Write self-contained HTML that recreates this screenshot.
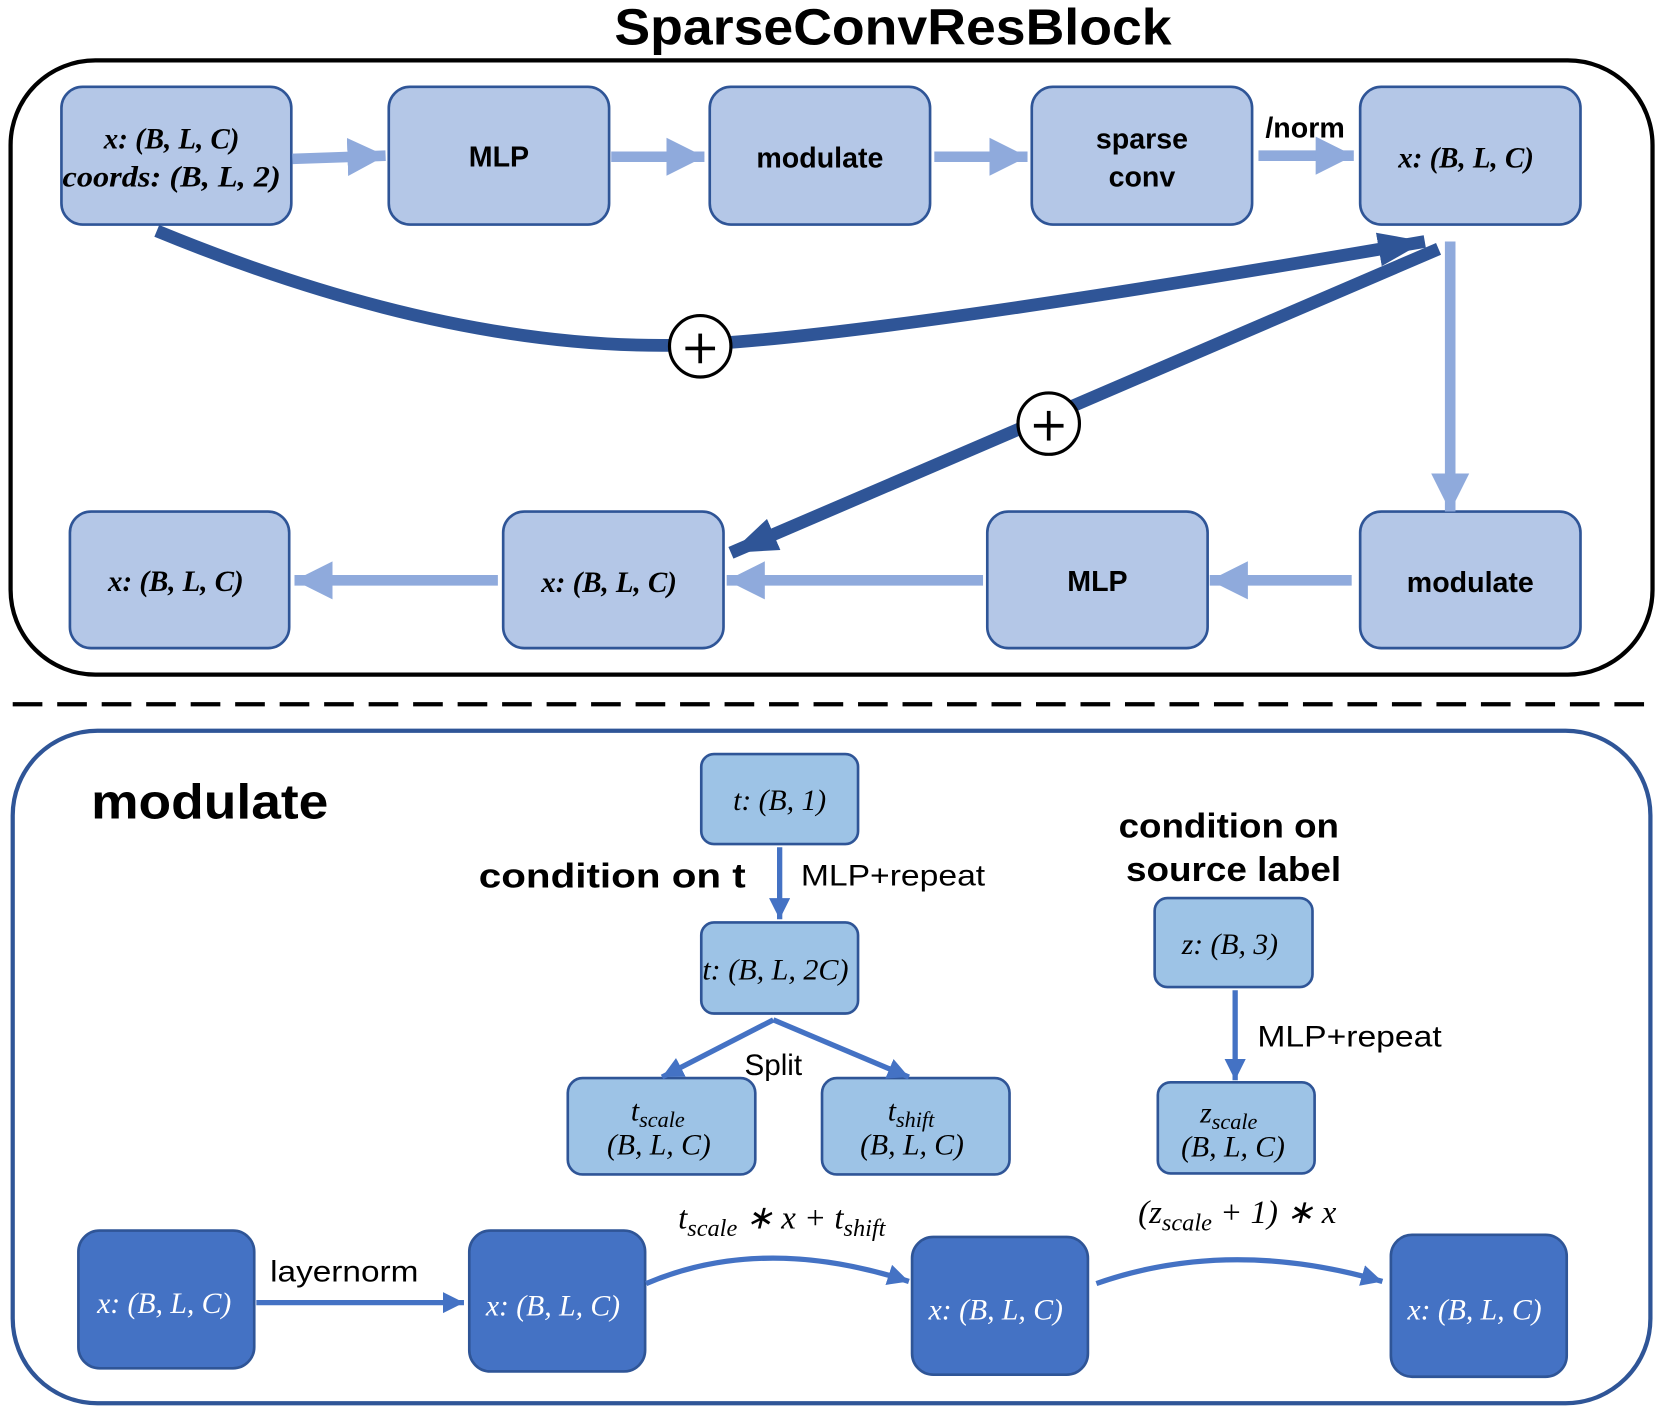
<!DOCTYPE html>
<html><head><meta charset="utf-8"><style>html,body{margin:0;padding:0;background:#fff}svg{display:block}</style></head>
<body>
<svg width="1661" height="1417" viewBox="0 0 1568 1338" preserveAspectRatio="none" xmlns="http://www.w3.org/2000/svg">
<defs>
<marker id="al" markerUnits="userSpaceOnUse" markerWidth="40" markerHeight="40" refX="36" refY="18" orient="auto"><path d="M0,0 L36,18 L0,36 Z" fill="#8faadc"/></marker>
<marker id="ad" markerUnits="userSpaceOnUse" markerWidth="50" markerHeight="40" refX="44" refY="16" orient="auto"><path d="M0,0 L44,16 L0,32 Z" fill="#2f5597"/></marker>
<marker id="am" markerUnits="userSpaceOnUse" markerWidth="24" markerHeight="24" refX="20" refY="10" orient="auto"><path d="M0,0 L20,10 L0,20 Z" fill="#4472c4"/></marker>
</defs>
<g font-family="Liberation Sans, sans-serif">
<text x="580" y="42" font-size="48" font-weight="bold" textLength="526" lengthAdjust="spacingAndGlyphs">SparseConvResBlock</text>
<rect x="10" y="57" width="1550" height="580" rx="80" fill="none" stroke="#000" stroke-width="4"/>
<g fill="#b4c7e7" stroke="#2f5597" stroke-width="2.5">
<rect x="58" y="82" width="217" height="130" rx="20"/>
<rect x="367" y="82" width="208" height="130" rx="20"/>
<rect x="670" y="82" width="208" height="130" rx="20"/>
<rect x="974" y="82" width="208" height="130" rx="20"/>
<rect x="1284" y="82" width="208" height="130" rx="20"/>
<rect x="66" y="483" width="207" height="129" rx="20"/>
<rect x="475" y="483" width="208" height="129" rx="20"/>
<rect x="932" y="483" width="208" height="129" rx="20"/>
<rect x="1284" y="483" width="208" height="129" rx="20"/>
</g>
<g font-size="27" font-weight="bold" text-anchor="middle">
<text x="471" y="157">MLP</text>
<text x="774" y="158">modulate</text>
<text x="1078" y="140">sparse</text>
<text x="1078" y="176">conv</text>
<text x="1036" y="558">MLP</text>
<text x="1388" y="559">modulate</text>
<text x="1232" y="130">/norm</text>
</g>
<g font-family="Liberation Serif, serif" font-style="italic" font-weight="bold" font-size="28" text-anchor="middle">
<text x="162" y="140" textLength="128" lengthAdjust="spacingAndGlyphs">x: (B, L, C)</text>
<text x="162" y="176" textLength="206" lengthAdjust="spacingAndGlyphs">coords: (B, L, 2)</text>
<text x="1384" y="158" textLength="128" lengthAdjust="spacingAndGlyphs">x: (B, L, C)</text>
<text x="166" y="558" textLength="128" lengthAdjust="spacingAndGlyphs">x: (B, L, C)</text>
<text x="575" y="559" textLength="128" lengthAdjust="spacingAndGlyphs">x: (B, L, C)</text>
</g>
<g stroke="#8faadc" stroke-width="10" fill="none">
<line x1="276" y1="150" x2="364" y2="147" marker-end="url(#al)"/>
<line x1="577" y1="148" x2="665" y2="148" marker-end="url(#al)"/>
<line x1="882" y1="148" x2="970" y2="148" marker-end="url(#al)"/>
<line x1="1188" y1="147" x2="1278" y2="147" marker-end="url(#al)"/>
<line x1="1369" y1="228" x2="1369" y2="483" marker-end="url(#al)"/>
<line x1="1276" y1="548" x2="1142" y2="548" marker-end="url(#al)"/>
<line x1="928" y1="548" x2="686" y2="548" marker-end="url(#al)"/>
<line x1="470" y1="548" x2="278" y2="548" marker-end="url(#al)"/>
</g>
<g stroke="#2f5597" stroke-width="12" fill="none">
<path d="M148,218 Q420,330 640,326 Q800,322 1345,228" marker-end="url(#ad)"/>
<line x1="1358" y1="235" x2="690" y2="522" marker-end="url(#ad)"/>
</g>
<g fill="#fff" stroke="#000" stroke-width="3">
<circle cx="661" cy="327" r="29"/>
<circle cx="990" cy="400" r="29"/>
</g>
<g stroke="#000" stroke-width="3.5">
<line x1="647" y1="329" x2="675" y2="329"/><line x1="661" y1="315" x2="661" y2="343"/>
<line x1="976" y1="402" x2="1004" y2="402"/><line x1="990" y1="388" x2="990" y2="416"/>
</g>
<line x1="12" y1="665" x2="1555" y2="665" stroke="#000" stroke-width="4" stroke-dasharray="28 14"/>
<rect x="12" y="690" width="1546" height="635" rx="80" fill="none" stroke="#2f5597" stroke-width="4"/>
<text x="86" y="773" font-size="46" font-weight="bold" textLength="224" lengthAdjust="spacingAndGlyphs">modulate</text>
<text x="452" y="838" font-size="32" font-weight="bold" textLength="252" lengthAdjust="spacingAndGlyphs">condition on t</text>
<text x="1056" y="791" font-size="32" font-weight="bold" textLength="208" lengthAdjust="spacingAndGlyphs">condition on</text>
<text x="1063" y="832" font-size="32" font-weight="bold" textLength="203" lengthAdjust="spacingAndGlyphs">source label</text>
<text x="756" y="836" font-size="28" textLength="174" lengthAdjust="spacingAndGlyphs">MLP+repeat</text>
<text x="1187" y="988" font-size="28" textLength="174" lengthAdjust="spacingAndGlyphs">MLP+repeat</text>
<text x="730" y="1015" font-size="28" text-anchor="middle">Split</text>
<text x="255" y="1210" font-size="28" textLength="140" lengthAdjust="spacingAndGlyphs">layernorm</text>
<g fill="#9dc3e6" stroke="#2f5597" stroke-width="2.5">
<rect x="662" y="712" width="148" height="85" rx="12"/>
<rect x="662" y="871" width="148" height="86" rx="12"/>
<rect x="536" y="1018" width="177" height="91" rx="14"/>
<rect x="776" y="1018" width="177" height="91" rx="14"/>
<rect x="1090" y="848" width="149" height="84" rx="12"/>
<rect x="1093" y="1022" width="148" height="86" rx="12"/>
</g>
<g fill="#4472c4" stroke="#2f5597" stroke-width="2.5">
<rect x="74" y="1162" width="166" height="130" rx="20"/>
<rect x="443" y="1162" width="166" height="133" rx="20"/>
<rect x="861" y="1168" width="166" height="130" rx="20"/>
<rect x="1313" y="1166" width="166" height="134" rx="20"/>
</g>
<g stroke="#4472c4" stroke-width="5" fill="none">
<line x1="736" y1="800" x2="736" y2="868" marker-end="url(#am)"/>
<line x1="730" y1="963" x2="625" y2="1017" marker-end="url(#am)"/>
<line x1="730" y1="963" x2="858" y2="1017" marker-end="url(#am)"/>
<line x1="1166" y1="935" x2="1166" y2="1020" marker-end="url(#am)"/>
<line x1="242" y1="1230" x2="438" y2="1230" marker-end="url(#am)"/>
<path d="M610,1212 Q720,1165 858,1210" marker-end="url(#am)"/>
<path d="M1035,1212 Q1160,1168 1305,1210" marker-end="url(#am)"/>
</g>
<g font-family="Liberation Serif, serif" font-style="italic" font-size="28" text-anchor="middle">
<text x="736" y="765">t: (B, 1)</text>
<text x="732" y="925" textLength="138" lengthAdjust="spacingAndGlyphs">t: (B, L, 2C)</text>
<text x="621" y="1058">t<tspan font-size="21" dy="6">scale</tspan></text>
<text x="622" y="1090">(B, L, C)</text>
<text x="860" y="1058">t<tspan font-size="21" dy="6">shift</tspan></text>
<text x="861" y="1090">(B, L, C)</text>
<text x="1161" y="901">z: (B, 3)</text>
<text x="1160" y="1060">z<tspan font-size="21" dy="6">scale</tspan></text>
<text x="1164" y="1092">(B, L, C)</text>
<text x="738" y="1160" font-size="31">t<tspan font-size="23" dy="7">scale</tspan><tspan dy="-7"> ∗ x + t</tspan><tspan font-size="23" dy="7">shift</tspan></text>
<text x="1168" y="1155" font-size="31">(z<tspan font-size="23" dy="7">scale</tspan><tspan dy="-7"> + 1) ∗ x</tspan></text>
<g fill="#fff">
<text x="155" y="1240">x: (B, L, C)</text>
<text x="522" y="1242">x: (B, L, C)</text>
<text x="940" y="1246">x: (B, L, C)</text>
<text x="1392" y="1246">x: (B, L, C)</text>
</g>
</g>
</g>
</svg>
</body></html>
